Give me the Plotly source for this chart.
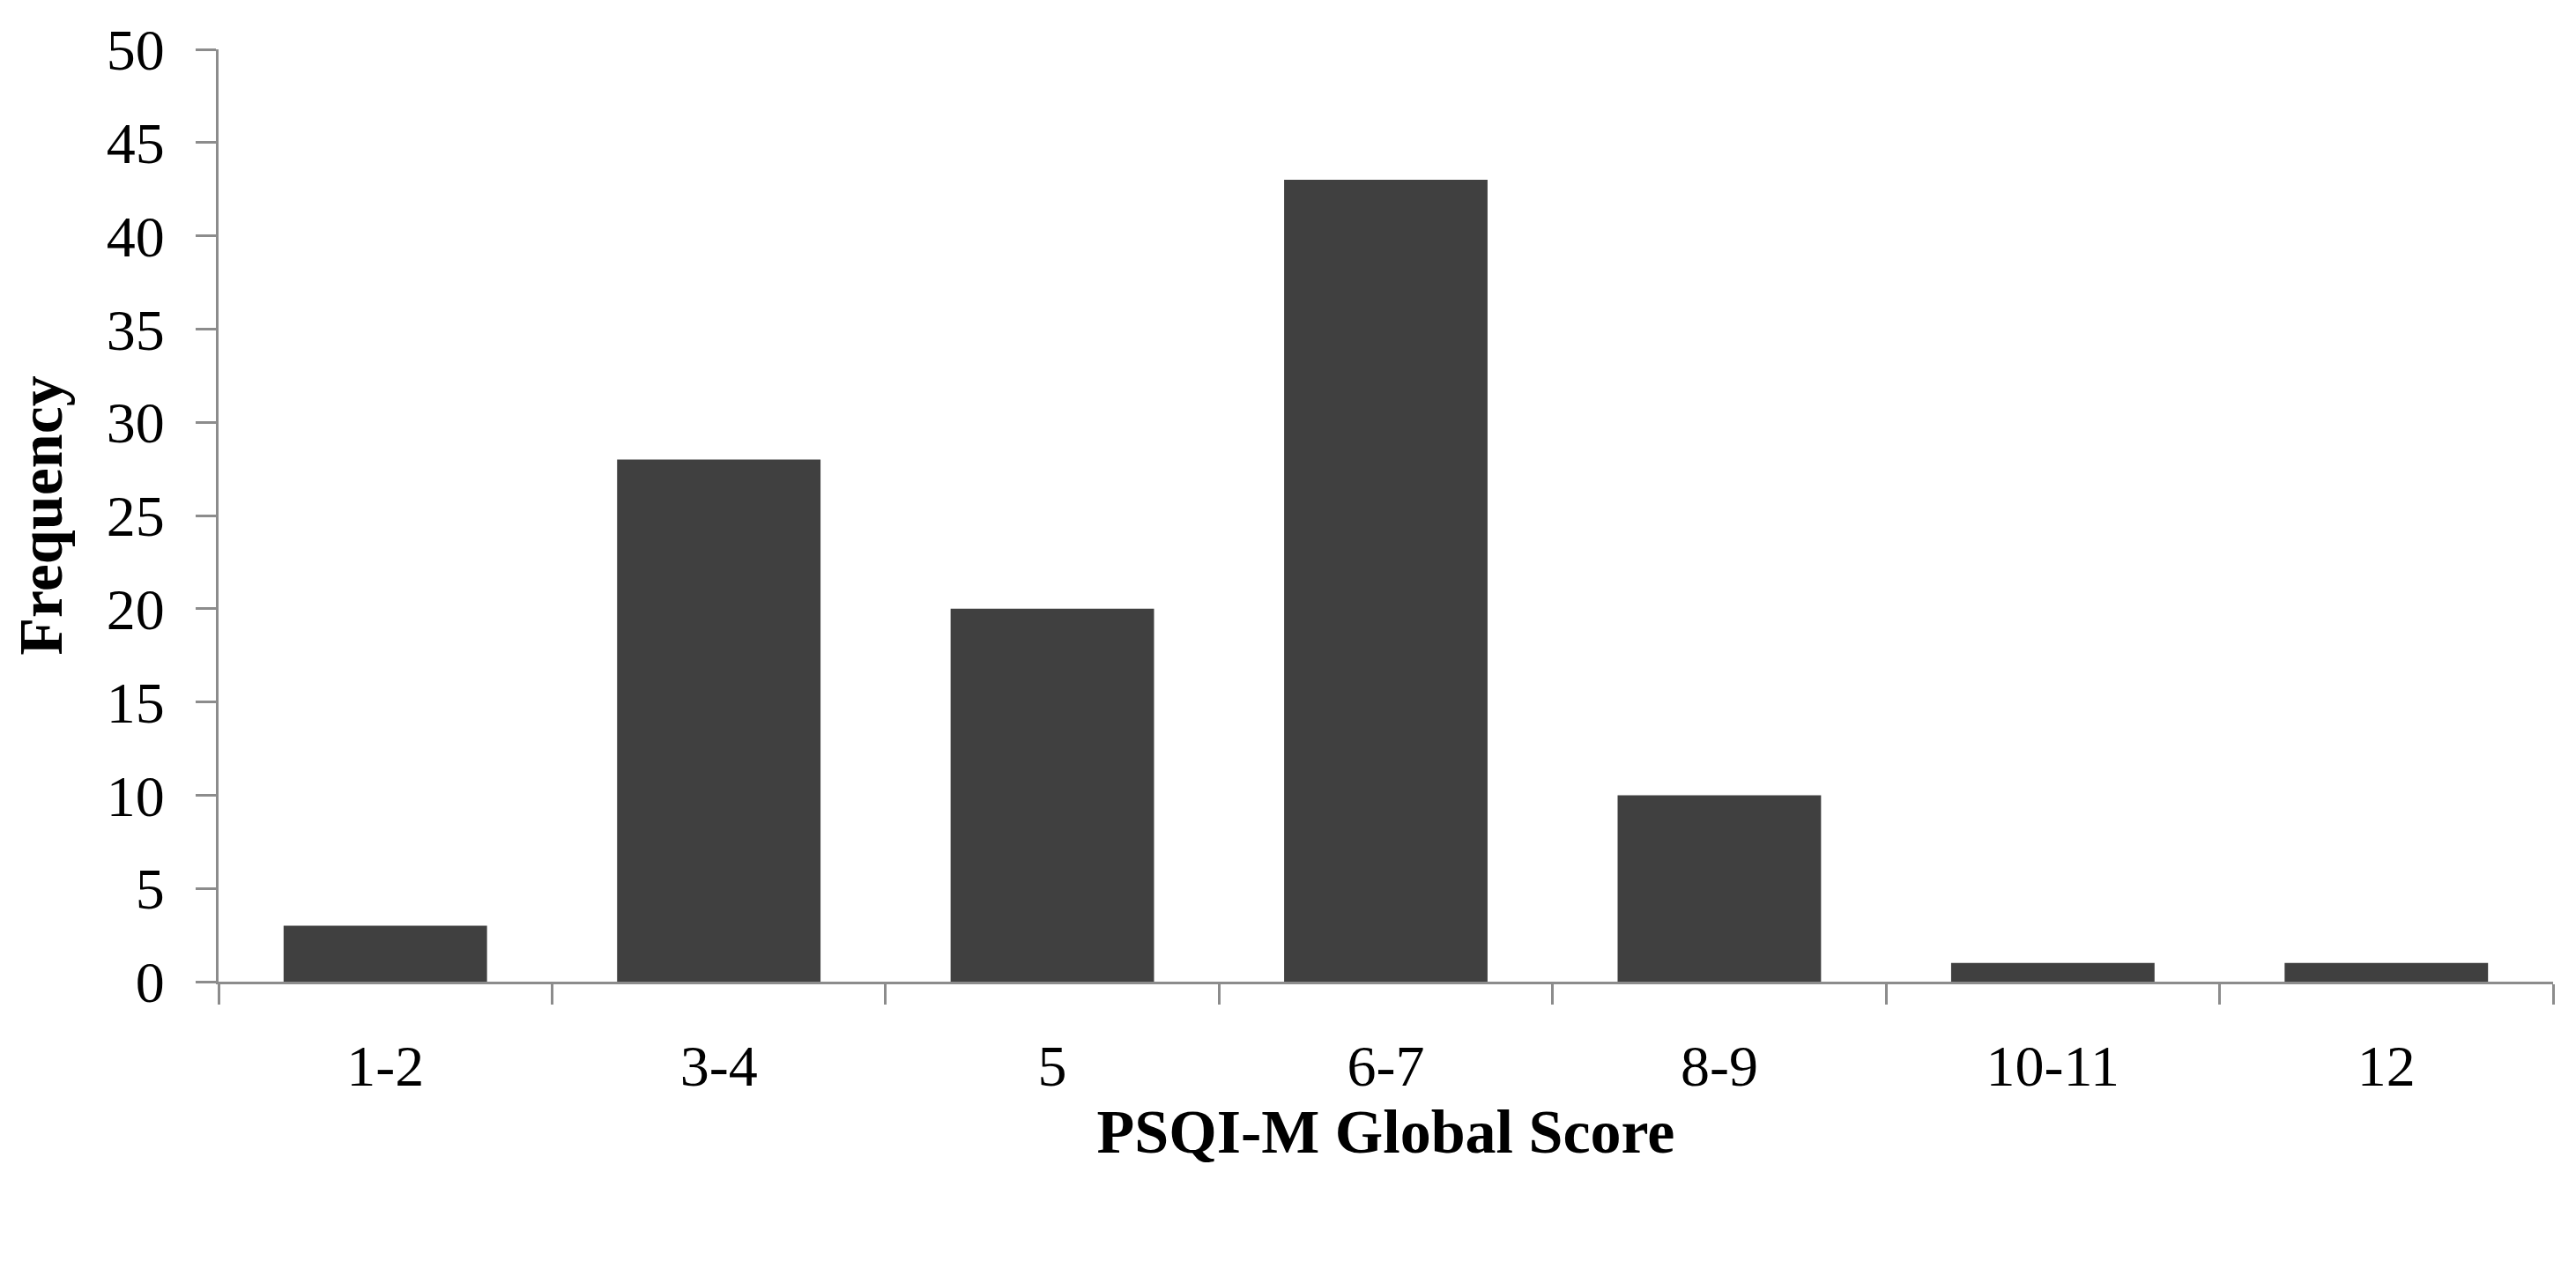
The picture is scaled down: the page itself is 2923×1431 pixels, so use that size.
import plotly.graph_objects as go

categories = ["1-2", "3-4", "5", "6-7", "8-9", "10-11", "12"]
frequency = [3, 28, 20, 43, 10, 1, 1]
y_ticks = [0, 5, 10, 15, 20, 25, 30, 35, 40, 45, 50]

axis_color = "#8c8c8c"
font_family = "Liberation Serif, DejaVu Serif, serif"

fig = go.Figure(go.Bar(x=categories, y=frequency, marker=dict(color="#404040", line=dict(width=0))))

fig.update_layout(
    width=2923, height=1431,
    margin=dict(l=240, r=34, t=44, b=325),
    plot_bgcolor="white", paper_bgcolor="white",
    bargap=0.39,
    showlegend=False,
    font=dict(family=font_family, size=66, color="black"),
)
fig.update_xaxes(
    type="category",
    showline=True, linecolor=axis_color, linewidth=3,
    ticks="outside", ticklen=23, tickwidth=3, tickcolor=axis_color,
    tickson="boundaries",
    showgrid=False, zeroline=False,
    ticklabelstandoff=36,
    tickfont=dict(size=66, family=font_family),
    title=dict(text="<b>PSQI-M Global Score</b>", font=dict(size=70, family=font_family), standoff=2),
)
fig.update_yaxes(
    range=[0, 50], tickvals=y_ticks,
    showline=True, linecolor=axis_color, linewidth=3,
    ticks="outside", ticklen=23, tickwidth=3, tickcolor=axis_color,
    showgrid=False, zeroline=False,
    ticklabelstandoff=22,
    tickfont=dict(size=66, family=font_family),
    title=dict(text="<b>Frequency</b>", font=dict(size=70, family=font_family), standoff=35),
)

fig.write_html("out.html")
